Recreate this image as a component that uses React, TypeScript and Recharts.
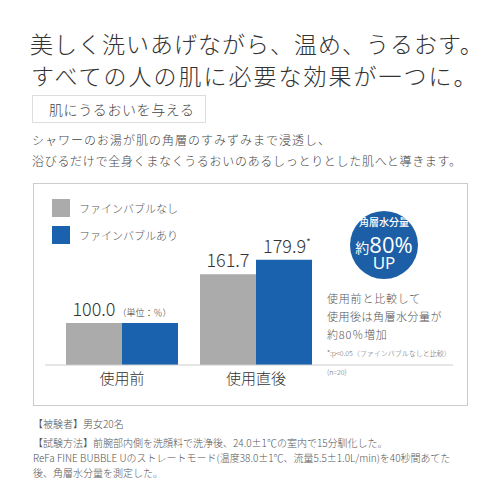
import React from "react"
import { Bar, BarChart, XAxis, YAxis } from "recharts"

const categories = ["使用前", "使用直後"]
const withoutBubble = [100.0, 161.7]
const withBubble = [100.0, 179.9]
const seriesNames = ["ファインバブルなし", "ファインバブルあり"]
const significant = [false, true]

const GRAY = "#ababab"
const BLUE = "#1a62ad"
const FONT = "'Noto Sans CJK JP', 'Noto Sans', sans-serif"

const data = categories.map((name, i) => ({
  name,
  nashi: withoutBubble[i],
  ari: withBubble[i],
  sig: significant[i],
}))

function T({ x, y, size, color = "#444", ls = 0, weight = 300, children }: any) {
  return (
    <div
      style={{
        position: "absolute",
        left: x,
        top: y - size * 0.65,
        fontSize: size,
        lineHeight: `${size * 1.3}px`,
        color,
        letterSpacing: ls,
        fontWeight: weight,
        whiteSpace: "nowrap",
      }}
    >
      {children}
    </div>
  )
}

// gray bar label: first group gets one shared label with unit, centred on the pair
function grayLabel(props: any) {
  const { x, y, width, value, index } = props
  if (index === 0) {
    return (
      <text x={x + width} y={y - 7} textAnchor="middle" fill="#333" fontFamily={FONT} fontWeight={300}>
        <tspan fontSize={18}>{value.toFixed(1)}</tspan>
        <tspan fontSize={9} dx={2}>（単位：％）</tspan>
      </text>
    )
  }
  return (
    <text x={x + width / 2} y={y - 7} textAnchor="middle" fill="#333" fontFamily={FONT} fontSize={18} fontWeight={300}>
      {value.toFixed(1)}
    </text>
  )
}

function blueLabel(props: any) {
  const { x, y, width, value, index } = props
  if (index === 0) return null
  return (
    <text x={x + width / 2 + 3} y={y - 7} textAnchor="middle" fill="#333" fontFamily={FONT} fontWeight={300}>
      <tspan fontSize={18}>{value.toFixed(1)}</tspan>
      {data[index].sig && <tspan fontSize={11} dy={-6}>*</tspan>}
    </text>
  )
}

export default function App() {
  return (
    <div
      style={{
        position: "absolute",
        left: 0,
        top: 0,
        width: 500,
        height: 500,
        background: "#fff",
        fontFamily: FONT,
        overflow: "hidden",
      }}
    >
      <T x={30} y={44} size={23} color="#333" ls={1}>美しく洗いあげながら、温め、うるおす。</T>
      <T x={31} y={76} size={23} color="#333" ls={2}>すべての人の肌に必要な効果が一つに。</T>

      <div
        style={{
          position: "absolute",
          left: 32,
          top: 95,
          width: 172,
          height: 26,
          border: "1px solid #ddd",
        }}
      />
      <T x={49} y={109} size={14} color="#444" ls={0.6}>肌にうるおいを与える</T>

      <T x={32} y={140} size={12} color="#444" ls={1}>シャワーのお湯が肌の角層のすみずみまで浸透し、</T>
      <T x={32} y={161} size={12} color="#444" ls={0.7}>浴びるだけで全身くまなくうるおいのあるしっとりとした肌へと導きます。</T>

      <div
        style={{
          position: "absolute",
          left: 33,
          top: 183,
          width: 433,
          height: 221,
          border: "1px solid #ccc",
        }}
      />

      <div style={{ position: "absolute", left: 52, top: 199, width: 18, height: 18, background: GRAY }} />
      <div style={{ position: "absolute", left: 52, top: 226, width: 18, height: 18, background: BLUE }} />
      <T x={79} y={208} size={11} color="#555">{seriesNames[0]}</T>
      <T x={79} y={235} size={11} color="#555">{seriesNames[1]}</T>

      <div style={{ position: "absolute", left: 33, top: 183 }}>
        <BarChart
          width={434}
          height={222}
          data={data}
          margin={{ top: 60, right: 14, bottom: 0, left: 12 }}
          barCategoryGap={11}
          barGap={0}
        >
          <XAxis
            dataKey="name"
            height={40}
            tickLine={false}
            axisLine={{ stroke: "#ccc" }}
            padding={{ left: 10, right: 130 }}
            tick={{ fill: "#333", fontSize: 15, fontFamily: FONT, fontWeight: 300 }}
            interval={0}
          />
          <YAxis hide domain={[47, 201]} />
          <Bar dataKey="nashi" fill={GRAY} isAnimationActive={false} label={grayLabel} />
          <Bar dataKey="ari" fill={BLUE} isAnimationActive={false} label={blueLabel} />
        </BarChart>
      </div>

      <div
        style={{
          position: "absolute",
          left: 350,
          top: 211,
          width: 68,
          height: 68,
          borderRadius: "50%",
          background: "#1d5fa6",
        }}
      />
      <div style={{ position: "absolute", left: 350, top: 215, width: 68, textAlign: "center", color: "#fff", fontSize: 10, fontWeight: 500, lineHeight: "14px" }}>
        角層水分量
      </div>
      <div style={{ position: "absolute", left: 350, top: 234, width: 68, textAlign: "center", color: "#fff", lineHeight: "20px", whiteSpace: "nowrap" }}>
        <span style={{ fontSize: 14 }}>約</span>
        <span style={{ fontSize: 22, fontFamily: "'Open Sans', sans-serif" }}>80%</span>
      </div>
      <div style={{ position: "absolute", left: 350, top: 256, width: 68, textAlign: "center", color: "#fff", fontSize: 17, lineHeight: "14px", fontFamily: "'Open Sans', sans-serif" }}>
        UP
      </div>

      <T x={327} y={298} size={11} color="#555" ls={0.8}>使用前と比較して</T>
      <T x={327} y={316} size={11} color="#555" ls={0.5}>使用後は角層水分量が</T>
      <T x={327} y={334} size={11} color="#555" ls={0.8}>約80％増加</T>
      <T x={327} y={354} size={7} color="#666">*:p&lt;0.05（ファインバブルなしと比較）</T>
      <T x={327} y={373} size={7} color="#666">(n=20)</T>

      <T x={33} y={423} size={10} color="#555">【被験者】男女20名</T>
      <T x={33} y={442} size={10} color="#555">【試験方法】前腕部内側を洗顔料で洗浄後、24.0±1℃の室内で15分馴化した。</T>
      <T x={33} y={457} size={10} color="#555">ReFa FINE BUBBLE Uのストレートモード(温度38.0±1℃、流量5.5±1.0L/min)を40秒間あてた</T>
      <T x={33} y={472} size={10} color="#555">後、角層水分量を測定した。</T>
    </div>
  )
}
